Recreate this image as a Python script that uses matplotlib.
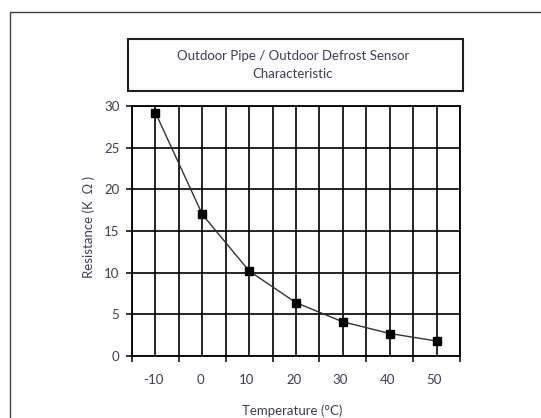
import matplotlib
matplotlib.use("Agg")
import matplotlib.pyplot as plt
from matplotlib.patches import Rectangle
import numpy as np

temps = [-10, 0, 10, 20, 30, 40, 50]
resistance = [29.2, 17.0, 10.2, 6.4, 4.1, 2.7, 1.8]
x_labels = ["-10", "0", "10", "20", "30", "40", "50"]
y_ticks = [0, 5, 10, 15, 20, 25, 30]

W, H = 541, 418
fig = plt.figure(figsize=(W / 100, H / 100), dpi=100)
fig.patch.set_facecolor("white")

font = ["Lato", "DejaVu Sans"]
tcol = "#3c3c5c"
fs = 9.5

def fx(px):
    return px / W

def fy(py):
    return 1 - py / H

# outer chart border (runs off right/bottom edges)
fig.add_artist(Rectangle((fx(10), fy(430)), fx(560) - fx(10), fy(12) - fy(430),
                         transform=fig.transFigure, fill=False, edgecolor="#404040", lw=1.0))

# title box
fig.add_artist(Rectangle((fx(128), fy(91)), fx(463) - fx(128), fy(39) - fy(91),
                         transform=fig.transFigure, fill=False, edgecolor="#202020", lw=1.5))
fig.text(fx(293), fy(56), "Outdoor Pipe / Outdoor Defrost Sensor", ha="center", va="center",
         fontsize=fs, color=tcol, family=font)
fig.text(fx(293), fy(73.5), "Characteristic", ha="center", va="center",
         fontsize=fs, color=tcol, family=font)

left, right, top, bottom = 132, 460, 106, 356
ax = fig.add_axes([fx(left), fy(bottom), fx(right) - fx(left), fy(top) - fy(bottom)])
ax.set_xlim(-15, 55)
ax.set_ylim(0, 30)

# grid
for gx in np.arange(-15, 56, 5):
    ax.axvline(gx, color="black", lw=1.2, zorder=1)
for gy in y_ticks:
    ax.axhline(gy, color="black", lw=1.2, zorder=1)

ax.plot(temps, resistance, color="#333333", lw=1.0, zorder=3)
ax.plot(temps, resistance, linestyle="none", marker="s", markersize=5.2,
        color="black", zorder=4)

for s in ax.spines.values():
    s.set_color("black")
    s.set_linewidth(1.3)

ax.set_yticks(y_ticks)
ax.set_yticklabels([str(v) for v in y_ticks], fontsize=fs, color=tcol, family=font)
ax.tick_params(axis="y", direction="out", length=4, width=1.1, pad=5)

ax.set_xticks(np.arange(-15, 56, 10))
ax.set_xticklabels([])
ax.tick_params(axis="x", direction="out", length=4, width=1.1)
for t, lab in zip(temps, x_labels):
    ax.text(t - 0.5, -0.097, lab, transform=ax.get_xaxis_transform(), ha="center", va="center",
            fontsize=fs, color=tcol, family=font)

fig.text(fx(89), fy(227), "Resistance (K  Ω )", rotation=90, ha="center", va="center",
         fontsize=fs, color=tcol, family=font)
fig.text(fx(292), fy(411), "Temperature (°C)", ha="center", va="center",
         fontsize=fs, color=tcol, family=font)

fig.savefig("out.png", dpi=100, facecolor="white")
